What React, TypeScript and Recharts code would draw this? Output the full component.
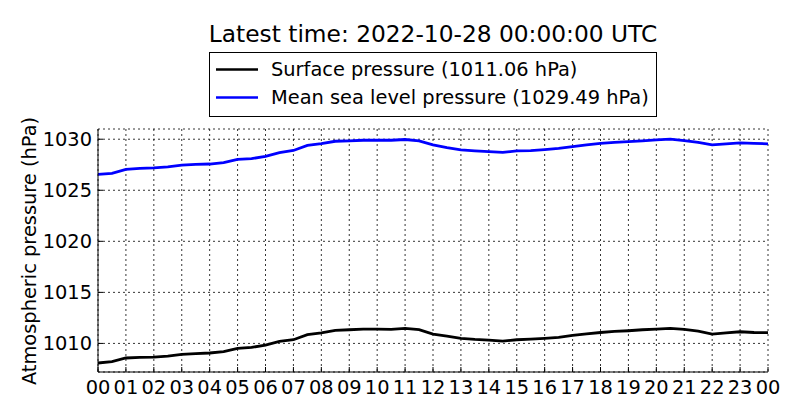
import { CartesianGrid, Legend, Line, LineChart, XAxis, YAxis } from "recharts";

const FONT = "'DejaVu Sans', sans-serif";
const FS = 19.4;

// hour tick labels, 00 .. 23 then 00 of the next day
const HOUR_LABELS = [
  "00", "01", "02", "03", "04", "05", "06", "07", "08", "09", "10", "11",
  "12", "13", "14", "15", "16", "17", "18", "19", "20", "21", "22", "23", "00",
];
const HOUR_TICKS = HOUR_LABELS.map((_, i) => i);
const PRESSURE_TICKS = [1010, 1015, 1020, 1025, 1030];

// half-hourly readings (hPa)
const SURFACE = [
  1008.08, 1008.21, 1008.57, 1008.63, 1008.66, 1008.76, 1008.93, 1008.99,
  1009.06, 1009.19, 1009.51, 1009.61, 1009.84, 1010.2, 1010.36, 1010.85,
  1011.04, 1011.27, 1011.34, 1011.4, 1011.4, 1011.37, 1011.47, 1011.34,
  1010.92, 1010.72, 1010.49, 1010.39, 1010.33, 1010.23, 1010.36, 1010.42,
  1010.49, 1010.59, 1010.78, 1010.94, 1011.07, 1011.17, 1011.24, 1011.34,
  1011.4, 1011.47, 1011.37, 1011.2, 1010.91, 1011.04, 1011.14, 1011.07,
  1011.06,
];
const MSL = [
  1026.55, 1026.65, 1027.04, 1027.14, 1027.2, 1027.3, 1027.47, 1027.53,
  1027.57, 1027.7, 1028.03, 1028.1, 1028.32, 1028.68, 1028.9, 1029.4,
  1029.57, 1029.8, 1029.84, 1029.9, 1029.9, 1029.9, 1029.97, 1029.84,
  1029.45, 1029.18, 1028.95, 1028.85, 1028.78, 1028.72, 1028.85, 1028.88,
  1028.98, 1029.11, 1029.28, 1029.44, 1029.6, 1029.7, 1029.77, 1029.84,
  1029.93, 1030.0, 1029.87, 1029.7, 1029.44, 1029.54, 1029.64, 1029.6,
  1029.55,
];

const SERIES_ORDER = ["surface", "msl"];

const data = SURFACE.map((v, i) => ({ t: i / 2, surface: v, msl: MSL[i] }));

const tickStyle = { fill: "#000", fontSize: FS, fontFamily: FONT };

function LegendBox({ payload }: any) {
  const items = [...(payload ?? [])].sort(
    (a: any, b: any) => SERIES_ORDER.indexOf(a.dataKey) - SERIES_ORDER.indexOf(b.dataKey),
  );
  return (
    <svg width={449} height={66} style={{ display: "block" }}>
      <rect x={0.5} y={0.5} width={447} height={64} fill="#fff" stroke="#000" />
      {items.map((p: any, i: number) => (
        <g key={p.value}>
          <line x1={7} x2={49} y1={17.5 + i * 28} y2={17.5 + i * 28} stroke={p.color} strokeWidth={2.6} />
          <text x={62} y={24 + i * 28} fontSize={FS} fontFamily={FONT} fill="#000">
            {p.value}
          </text>
        </g>
      ))}
    </svg>
  );
}

export default function App() {
  return (
    <div style={{ position: "absolute", left: 0, top: 0, width: 800, height: 420, background: "#fff" }}>
      <LineChart
        width={800}
        height={420}
        data={data}
        margin={{ top: 129, right: 32, bottom: 0, left: 0 }}
      >
        <CartesianGrid stroke="#000" strokeWidth={0.8} strokeDasharray="2 3" />
        <XAxis
          dataKey="t"
          type="number"
          domain={[0, 24]}
          ticks={HOUR_TICKS}
          interval={0}
          tickFormatter={(v: number) => HOUR_LABELS[v]}
          height={48}
          tickSize={-5}
          tickMargin={13}
          stroke="#000"
          tick={tickStyle}
        />
        <XAxis
          xAxisId="top"
          orientation="top"
          dataKey="t"
          type="number"
          domain={[0, 24]}
          ticks={HOUR_TICKS}
          interval={0}
          height={0}
          tickSize={-5}
          tick={false}
          stroke="#000"
        />
        <YAxis
          type="number"
          domain={[1007.2, 1031]}
          ticks={PRESSURE_TICKS}
          interval={0}
          width={98}
          tickSize={-5}
          tickMargin={11}
          stroke="#000"
          tick={tickStyle}
          label={() => (
            <text
              x={29}
              y={251}
              transform="rotate(-90, 29, 251)"
              textAnchor="middle"
              dominantBaseline="central"
              fontSize={FS}
              fontFamily={FONT}
              fill="#000"
            >
              Atmospheric pressure (hPa)
            </text>
          )}
        />
        <YAxis
          yAxisId="right"
          orientation="right"
          type="number"
          domain={[1007.2, 1031]}
          ticks={PRESSURE_TICKS}
          interval={0}
          width={0}
          tickSize={-5}
          tick={false}
          stroke="#000"
        />
        <Legend
          layout="horizontal"
          align="center"
          verticalAlign="middle"
          wrapperStyle={{ left: 209, top: 52, width: 449, height: 66 }}
          content={LegendBox}
        />
        <Line
          name="Surface pressure (1011.06 hPa)"
          dataKey="surface"
          stroke="#000"
          strokeWidth={2.8}
          dot={false}
          isAnimationActive={false}
        />
        <Line
          name="Mean sea level pressure (1029.49 hPa)"
          dataKey="msl"
          stroke="#0000ff"
          strokeWidth={2.8}
          dot={false}
          isAnimationActive={false}
        />
      </LineChart>
      <svg
        width={800}
        height={60}
        style={{ position: "absolute", left: 0, top: 0, pointerEvents: "none" }}
      >
        <text x={433} y={42} textAnchor="middle" fontSize={23.3} fontFamily={FONT} fill="#000">
          Latest time: 2022-10-28 00:00:00 UTC
        </text>
      </svg>
    </div>
  );
}
